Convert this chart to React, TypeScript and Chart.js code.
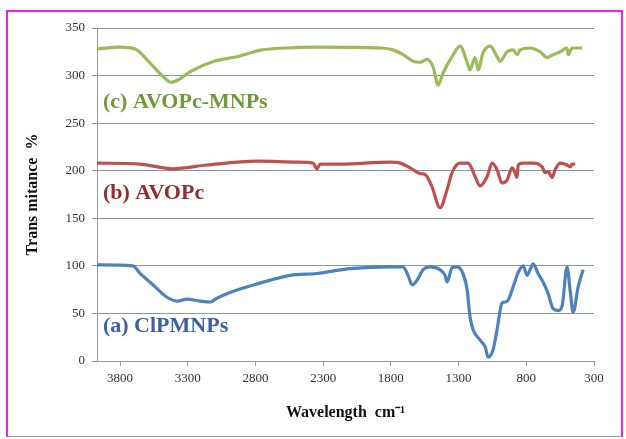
import React, { useEffect, useRef } from "react";
import { Chart, registerables } from "chart.js";

Chart.register(...registerables);

// x-axis tick labels (wavenumber, cm^-1)
const xTicks = [3800, 3300, 2800, 2300, 1800, 1300, 800, 300];

// (a) ClPMNPs
const wnA = [3970, 3704, 3652, 3556, 3453, 3379, 3305, 3209, 3135, 3084, 2988, 2788, 2544, 2345, 2101, 1806, 1710, 1673, 1643, 1606, 1562, 1510, 1437, 1400, 1385, 1348, 1311, 1274, 1237, 1215, 1193, 1141, 1104, 1082, 1045, 1016, 979, 956, 934, 897, 860, 823, 794, 772, 749, 713, 676, 639, 602, 565, 535, 499, 476, 454, 417, 380];
const tA = [101, 100, 92, 80, 67, 63, 65, 63, 62, 66, 72, 81, 90, 92, 97, 99, 99, 90, 80, 85, 96, 99, 96, 90, 83, 98, 99, 94, 75, 46, 33, 22, 15, 4, 12, 33, 61, 62, 64, 78, 93, 100, 90, 96, 102, 92, 83, 71, 55, 53, 58, 99, 74, 51, 78, 96];

// (b) AVOPc
const wnB = [3970, 3652, 3409, 3157, 2788, 2493, 2375, 2345, 2323, 2175, 1806, 1732, 1658, 1584, 1547, 1496, 1437, 1385, 1348, 1289, 1230, 1178, 1141, 1089, 1052, 1016, 979, 942, 905, 883, 868, 860, 823, 749, 683, 661, 639, 609, 587, 550, 499, 476, 462, 439];
const tB = [208, 207, 202, 206, 210, 209, 208, 202, 207, 207, 209, 208, 203, 197, 196, 183, 161, 180, 198, 208, 208, 194, 184, 194, 208, 201, 187, 190, 203, 198, 193, 206, 208, 208, 204, 198, 199, 193, 201, 208, 206, 204, 207, 207];

// (c) AVOPc-MNPs
const wnC = [3970, 3807, 3689, 3571, 3482, 3423, 3364, 3283, 3106, 2929, 2751, 2574, 2345, 1872, 1784, 1710, 1636, 1584, 1533, 1488, 1451, 1414, 1348, 1289, 1237, 1215, 1178, 1156, 1119, 1067, 1016, 993, 942, 897, 868, 846, 772, 698, 646, 602, 550, 499, 491, 462, 388];
const tC = [328, 330, 328, 312, 299, 293, 296, 304, 315, 320, 327, 329, 330, 329, 327, 322, 315, 314, 317, 309, 290, 303, 320, 331, 314, 306, 319, 306, 324, 331, 320, 315, 325, 327, 322, 327, 329, 325, 319, 322, 325, 329, 322, 329, 329];

const seriesNames = ["(a) ClPMNPs", "(b) AVOPc", "(c) AVOPc-MNPs"];
const lineColors = ["#4F81BD", "#C0504D", "#9BBB59"];
const labelColors = ["#3d5ea6", "#8f2f2d", "#6f9a3c"];
// label anchor in data units (wavenumber, transmittance)
const labelX = [3926, 3926, 3926];
const labelY = [36, 176, 272];

const toPts = (xs: number[], ys: number[]) => xs.map((x, i) => ({ x, y: ys[i] }));

const labelPlugin = {
  id: "seriesLabels",
  afterDatasetsDraw(chart: any) {
    const { ctx, scales } = chart;
    ctx.save();
    ctx.font = 'bold 22px "Liberation Serif"';
    ctx.textBaseline = "middle";
    ctx.textAlign = "left";
    seriesNames.forEach((t, i) => {
      ctx.fillStyle = labelColors[i];
      ctx.fillText(t, scales.x.getPixelForValue(labelX[i]), scales.y.getPixelForValue(labelY[i]));
    });
    ctx.restore();
  },
};

export default function App() {
  const ref = useRef<HTMLCanvasElement>(null);
  useEffect(() => {
    if (!ref.current) return;
    const data = [toPts(wnA, tA), toPts(wnB, tB), toPts(wnC, tC)];
    const chart = new Chart(ref.current, {
      type: "line",
      data: {
        datasets: data.map((d, i) => ({
          label: seriesNames[i],
          data: d,
          borderColor: lineColors[i],
          backgroundColor: lineColors[i],
          borderWidth: 3.2,
          pointRadius: 0,
          cubicInterpolationMode: "monotone" as const,
          fill: false,
        })),
      },
      options: {
        responsive: false,
        animation: false,
        layout: { padding: { top: 28, right: 32, bottom: 0, left: 0 } },
        plugins: { legend: { display: false }, tooltip: { enabled: false } },
        scales: {
          x: {
            type: "linear",
            reverse: true,
            min: 300,
            max: 3970,
            afterBuildTicks: (scale: any) => {
              scale.ticks = xTicks.map((v) => ({ value: v }));
            },
            afterFit: (scale: any) => {
              scale.height = 78;
            },
            grid: { drawOnChartArea: false, drawTicks: true, tickLength: 5, color: "#9a9a9a" },
            border: { display: true, color: "#9a9a9a" },
            ticks: {
              autoSkip: false,
              maxRotation: 0,
              padding: 5,
              color: "#333",
              font: { family: "Liberation Serif", size: 13 },
              callback: (v: any) => String(v),
            },
            title: {
              display: true,
              text: "Wavelength  cm⁻¹",
              color: "#111",
              font: { family: "Liberation Serif", size: 16, weight: "bold" },
              padding: { top: 0, bottom: 17 },
            },
          },
          y: {
            min: 0,
            max: 350,
            afterFit: (scale: any) => {
              scale.width = 97;
            },
            ticks: {
              stepSize: 50,
              padding: 7,
              color: "#333",
              font: { family: "Liberation Serif", size: 13 },
              callback: (v: any) => String(v),
            },
            grid: { color: "#8797aa", tickLength: 5, lineWidth: 1 },
            border: { display: true, color: "#9a9a9a" },
            title: {
              display: true,
              text: "Trans mitance  %",
              color: "#111",
              font: { family: "Liberation Serif", size: 16, weight: "bold" },
              padding: { top: 23, bottom: 0 },
            },
          },
        },
      },
      plugins: [labelPlugin],
    });
    return () => chart.destroy();
  }, []);

  return (
    <div style={{ position: "fixed", left: 0, top: 0, width: 626, height: 439, background: "#fff" }}>
      <canvas ref={ref} width={626} height={439} style={{ position: "absolute", left: 0, top: 0 }} />
      <div
        style={{
          position: "absolute",
          left: 6,
          top: 10,
          width: 613,
          height: 424,
          borderTop: "2px solid #f01cf0",
          borderLeft: "2px solid #f01cf0",
          borderRight: "2px solid #f01cf0",
          borderBottom: "1px solid #9a9a9a",
          pointerEvents: "none",
        }}
      />
    </div>
  );
}
